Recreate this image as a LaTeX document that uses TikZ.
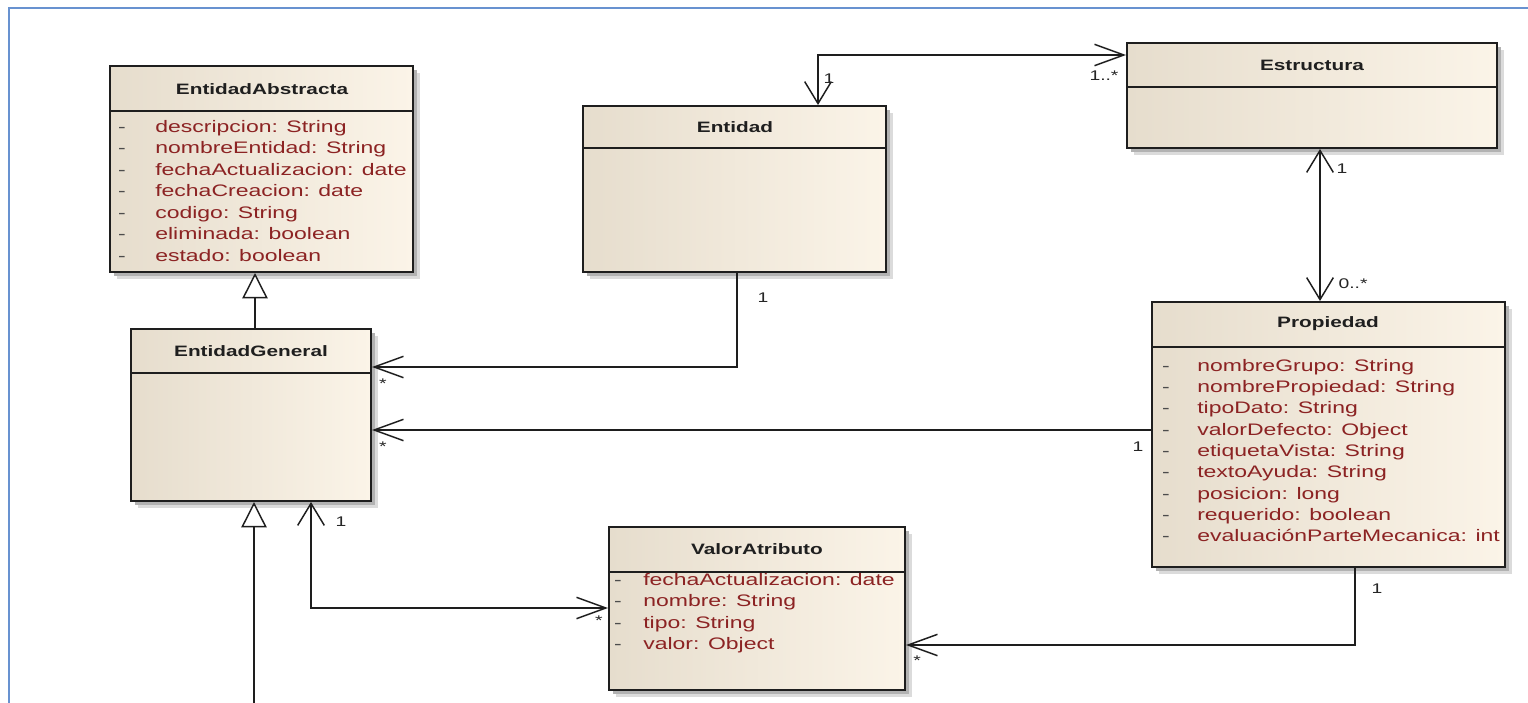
\documentclass[tikz,border=0pt]{standalone}
\usepackage{fontspec}
\newfontfamily\umlfont{Liberation Sans}[FakeStretch=1.38]
\usetikzlibrary{arrows.meta,fit}
\definecolor{clsL}{RGB}{230,221,205}
\definecolor{clsR}{RGB}{251,244,232}
\definecolor{attrc}{RGB}{140,35,35}
\definecolor{framec}{RGB}{104,146,208}
\definecolor{linec}{RGB}{30,30,30}
\tikzset{
  hb/.tip={Straight Barb[length=22pt,width=16pt]},
  vb/.tip={Straight Barb[length=16.5pt,width=20pt]},
  classbox/.style={draw=linec, line width=1.5pt, left color=clsL, right color=clsR, inner sep=0pt},
  divline/.style={draw=linec, line width=1.2pt},
  ctitle/.style={font=\umlfont\fontsize{11.3}{13}\selectfont\bfseries, text=black!88, inner sep=0pt},
  attr/.style={font=\umlfont\fontsize{12.5}{14}\selectfont, text=attrc, anchor=west, inner sep=0pt, text height=9pt, text depth=2.5pt},
  dashmark/.style={font=\umlfont\fontsize{12.5}{14}\selectfont, text=black!70, inner sep=0pt, text height=9pt, text depth=2.5pt},
  mult/.style={font=\umlfont\fontsize{10.5}{12}\selectfont, text=black!85, inner sep=0pt},
  assoc/.style={draw=linec, line width=1.1pt},
  gen/.style={draw=linec, line width=1.1pt, -{Triangle[length=19pt,width=19pt,fill=white]}},
}
\newcommand{\clsshadow}[4]{%
  \fill[black!14] (#1+7,#2+7) rectangle (#3+7,#4+7);
  \fill[black!30] (#1+4,#2+4) rectangle (#3+4,#4+4);
}
\begin{document}
\begin{tikzpicture}[x=0.75pt,y=-0.75pt]
\useasboundingbox (0,0) rectangle (1528,703);
\fill[white] (0,0) rectangle (1528,703);
% frame
\draw[framec, line width=2.2pt] (9,703) -- (9,8) -- (1528,8);

% ---------- classes ----------
% EntidadAbstracta
\clsshadow{110}{66}{413}{272}
\node[classbox, fit={(110,66) (413,272)}] (ea) {};
\draw[divline] (110,111) -- (413,111);
\node[ctitle] (eaT) at (262,89) {EntidadAbstracta};
\foreach \t [count=\i from 0] in {descripcion: String, nombreEntidad: String, fechaActualizacion: date, fechaCreacion: date, codigo: String, eliminada: boolean, estado: boolean} {
  \node[dashmark] (eaD\i) at (122,128+21.5*\i) {-};
  \node[attr] (eaA\i) at (155,128+21.5*\i) {\t};
}

% Entidad
\clsshadow{583}{106}{886}{272}
\node[classbox, fit={(583,106) (886,272)}] (ent) {};
\draw[divline] (583,148) -- (886,148);
\node[ctitle] (entT) at (735,127) {Entidad};

% Estructura
\clsshadow{1127}{43}{1497}{148}
\node[classbox, fit={(1127,43) (1497,148)}] (estr) {};
\draw[divline] (1127,87) -- (1497,87);
\node[ctitle] (estrT) at (1312,65) {Estructura};

% EntidadGeneral
\clsshadow{131}{329}{371}{501}
\node[classbox, fit={(131,329) (371,501)}] (eg) {};
\draw[divline] (131,373) -- (371,373);
\node[ctitle] (egT) at (251,351) {EntidadGeneral};

% Propiedad
\clsshadow{1152}{302}{1505}{567}
\node[classbox, fit={(1152,302) (1505,567)}] (prop) {};
\draw[divline] (1152,347) -- (1505,347);
\node[ctitle] (propT) at (1328,324) {Propiedad};
\foreach \t [count=\i from 0] in {nombreGrupo: String, nombrePropiedad: String, tipoDato: String, valorDefecto: Object, etiquetaVista: String, textoAyuda: String, posicion: long, requerido: boolean, evaluaciónParteMecanica: int} {
  \node[dashmark] (propD\i) at (1166,367+21.3*\i) {-};
  \node[attr] (propA\i) at (1197,367+21.3*\i) {\t};
}

% ValorAtributo
\clsshadow{609}{527}{905}{690}
\node[classbox, fit={(609,527) (905,690)}] (va) {};
\draw[divline] (609,572) -- (905,572);
\node[ctitle] (vaT) at (757,549) {ValorAtributo};
\foreach \t [count=\i from 0] in {fechaActualizacion: date, nombre: String, tipo: String, valor: Object} {
  \node[dashmark] (vaD\i) at (618,581+21.5*\i) {-};
  \node[attr] (vaA\i) at (643,581+21.5*\i) {\t};
}

% ---------- connectors ----------
% Entidad <-> Estructura
\coordinate (c1) at (818,55);
\draw[assoc, vb-hb] (ent.north -| c1) -- (c1) -- (c1 -| estr.west);
\node[mult] (m1a) at (829,79) {1};
\node[mult] (m1b) at (1104,76) {1..*};

% Estructura <-> Propiedad
\coordinate (c2) at (1320,220);
\draw[assoc, vb-vb] (estr.south -| c2) -- (prop.north -| c2);
\node[mult] (m2a) at (1342,169) {1};
\node[mult] (m2b) at (1353,284) {0..*};

% Entidad -> EntidadGeneral
\coordinate (c3) at (737,367);
\draw[assoc, -hb] (ent.south -| c3) -- (c3) -- (c3 -| eg.east);
\node[mult] (m3a) at (763,298) {1};
\node[mult] (m3b) at (383,384) {*};

% Propiedad -> EntidadGeneral
\coordinate (c4) at (760,430);
\draw[assoc, -hb] (prop.west |- c4) -- (eg.east |- c4);
\node[mult] (m4a) at (1138,447) {1};
\node[mult] (m4b) at (383,447) {*};

% EntidadGeneral <-> ValorAtributo
\coordinate (c5) at (311,608);
\draw[assoc, vb-hb] (eg.south -| c5) -- (c5) -- (c5 -| va.west);
\node[mult] (m5a) at (341,522) {1};
\node[mult] (m5b) at (599,621) {*};

% Propiedad -> ValorAtributo
\coordinate (c6) at (1355,645);
\draw[assoc, -hb] (prop.south -| c6) -- (c6) -- (c6 -| va.east);
\node[mult] (m6a) at (1377,589) {1};
\node[mult] (m6b) at (917,661) {*};

% generalizations
\coordinate (c7) at (255,300);
\draw[gen] (eg.north -| c7) -- (ea.south -| c7);
\coordinate (c8) at (254,703);
\draw[gen] (c8) -- (eg.south -| c8);
\end{tikzpicture}
\end{document}
